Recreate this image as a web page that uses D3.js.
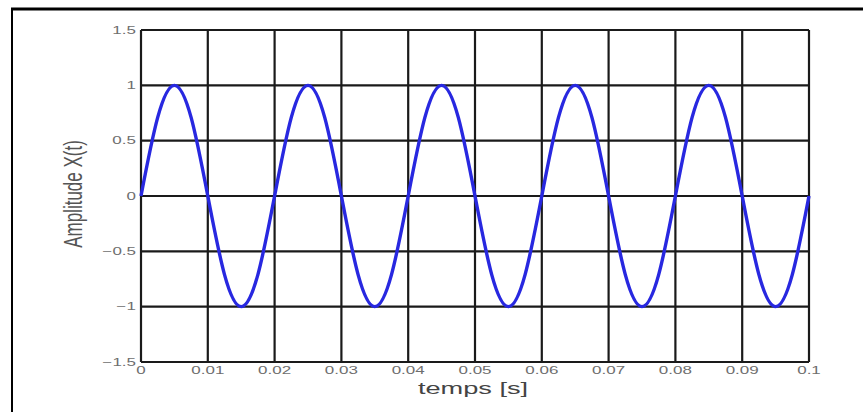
<!DOCTYPE html>
<html>
<head>
<meta charset="utf-8">
<script src="https://cdn.jsdelivr.net/npm/d3@7"></script>
<style>
  body { margin: 0; background: #fff; }
  svg { display: block; }
</style>
</head>
<body>
<svg width="863" height="412"></svg>
<script>
const temps = [0, 0.0025, 0.005, 0.0075, 0.01, 0.0125, 0.015, 0.0175,
  0.02, 0.0225, 0.025, 0.0275, 0.03, 0.0325, 0.035, 0.0375,
  0.04, 0.0425, 0.045, 0.0475, 0.05, 0.0525, 0.055, 0.0575,
  0.06, 0.0625, 0.065, 0.0675, 0.07, 0.0725, 0.075, 0.0775,
  0.08, 0.0825, 0.085, 0.0875, 0.09, 0.0925, 0.095, 0.0975, 0.1];
const amplitude = [0, 0.71, 1, 0.71, 0, -0.71, -1, -0.71,
  0, 0.71, 1, 0.71, 0, -0.71, -1, -0.71,
  0, 0.71, 1, 0.71, 0, -0.71, -1, -0.71,
  0, 0.71, 1, 0.71, 0, -0.71, -1, -0.71,
  0, 0.71, 1, 0.71, 0, -0.71, -1, -0.71, 0];
const xTicks = [0, 0.01, 0.02, 0.03, 0.04, 0.05, 0.06, 0.07, 0.08, 0.09, 0.1];
const xTickLabels = ["0", "0.01", "0.02", "0.03", "0.04", "0.05", "0.06", "0.07", "0.08", "0.09", "0.1"];
const yTicks = [-1.5, -1, -0.5, 0, 0.5, 1, 1.5];
const yTickLabels = ["-1.5", "-1", "-0.5", "0", "0.5", "1", "1.5"];

const svg = d3.select("svg");

// outer frame (only top and left edges visible)
svg.append("line").attr("x1", 11).attr("x2", 863).attr("y1", 9).attr("y2", 9)
  .attr("stroke", "#000").attr("stroke-width", 3);
svg.append("line").attr("x1", 12).attr("x2", 12).attr("y1", 8).attr("y2", 412)
  .attr("stroke", "#000").attr("stroke-width", 2);

// plot area
const plotL = 141, plotR = 809, plotT = 30, plotB = 362;
const x = d3.scaleLinear().domain([0, 0.1]).range([plotL, plotR]);
const y = d3.scaleLinear().domain([-1.5, 1.5]).range([plotB, plotT]);

const stretch = 1.7; // picture is squeezed wide, text too

// grid
svg.append("g").selectAll("line").data(xTicks).enter().append("line")
  .attr("x1", (d) => x(d)).attr("x2", (d) => x(d))
  .attr("y1", plotT).attr("y2", plotB)
  .attr("stroke", "#1a1a1a").attr("stroke-width", 2.2);
svg.append("g").selectAll("line").data(yTicks).enter().append("line")
  .attr("x1", plotL).attr("x2", plotR)
  .attr("y1", (d) => y(d)).attr("y2", (d) => y(d))
  .attr("stroke", "#1a1a1a").attr("stroke-width", 2.2);

// the signal
const line = d3.line()
  .x((d, i) => x(temps[i]))
  .y((d) => y(d))
  .curve(d3.curveNatural);
svg.append("path").datum(amplitude)
  .attr("d", line)
  .attr("fill", "none")
  .attr("stroke", "#2828e0")
  .attr("stroke-width", 3.4)
  .attr("stroke-linejoin", "round");

// tick labels
svg.append("g").selectAll("text").data(yTicks).enter().append("text")
  .attr("transform", (d) => `translate(136,${y(d) + 3.5}) scale(${stretch},1)`)
  .attr("text-anchor", "end")
  .style("font-family", "Liberation Sans, Arial, sans-serif")
  .style("font-size", "10px")
  .style("fill", "#6e6e6e")
  .text((d, i) => yTickLabels[i].replace("-", "\u2212"));

svg.append("g").selectAll("text").data(xTicks).enter().append("text")
  .attr("transform", (d) => `translate(${x(d)},374) scale(${stretch},1)`)
  .attr("text-anchor", "middle")
  .style("font-family", "Liberation Sans, Arial, sans-serif")
  .style("font-size", "10px")
  .style("fill", "#6e6e6e")
  .text((d, i) => xTickLabels[i]);

// axis titles
svg.append("text")
  .attr("transform", `translate(473,394) scale(${stretch},1)`)
  .attr("text-anchor", "middle")
  .style("font-family", "Liberation Sans, Arial, sans-serif")
  .style("font-size", "16px")
  .style("fill", "#444")
  .text("temps [s]");

svg.append("text")
  .attr("transform", `translate(82,194) scale(${stretch * 0.9},1) rotate(-90)`)
  .attr("text-anchor", "middle")
  .style("font-family", "Liberation Sans, Arial, sans-serif")
  .style("font-size", "17px")
  .style("fill", "#555")
  .text("Amplitude X(t)");
</script>
</body>
</html>
